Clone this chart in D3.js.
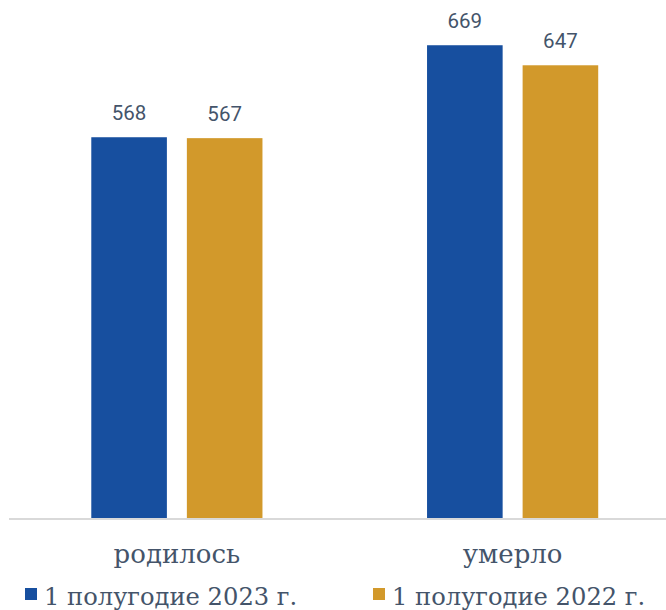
<!DOCTYPE html>
<html><head><meta charset="utf-8">
<script src="https://cdn.jsdelivr.net/npm/d3@7"></script>
<style>body{margin:0;background:#fff}svg{display:block}</style>
</head><body>
<svg id="c" width="666" height="610"></svg>
<script>
const categories = ["родилось", "умерло"];
const seriesNames = ["1 полугодие 2023 г.", "1 полугодие 2022 г."];
const values2023 = [568, 669];
const values2022 = [567, 647];
const colors = ["#174f9f", "#d2992b"];

const svg = d3.select("#c");
const textColor = "#44546a";
const serif = "'DejaVu Serif', serif";

const y = d3.scaleLinear().domain([150, 700]).range([518, 17]);
const x0 = d3.scaleBand().domain(categories).range([9, 680.5]);
const x1 = d3.scaleBand().domain(seriesNames).range([0, x0.bandwidth()]).paddingInner(0.209).paddingOuter(0.861);

const data = categories.map((c, i) => ({cat: c, vals: [values2023[i], values2022[i]]}));

const g = svg.selectAll("g.grp").data(data).enter().append("g")
  .attr("transform", d => `translate(${x0(d.cat)},0)`);

g.selectAll("rect").data(d => d.vals.map((v, j) => ({v, s: seriesNames[j], j}))).enter().append("rect")
  .attr("x", d => x1(d.s)).attr("width", x1.bandwidth())
  .attr("y", d => y(d.v)).attr("height", d => y.range()[0] - y(d.v))
  .attr("fill", d => colors[d.j]);

g.selectAll("text.val").data(d => d.vals.map((v, j) => ({v, s: seriesNames[j], j}))).enter().append("text")
  .attr("class", "val")
  .attr("x", d => x1(d.s) + x1.bandwidth() / 2).attr("y", d => y(d.v) - 17)
  .attr("text-anchor", "middle").attr("fill", textColor)
  .style("font-family", "Roboto, sans-serif").style("font-size", "20.5px")
  .text(d => d.v);

// axis line
svg.append("line").attr("x1", x0.range()[0]).attr("x2", x0.range()[1])
  .attr("y1", 519).attr("y2", 519).attr("stroke", "#d9d9d9").attr("stroke-width", 2);

// category labels
svg.selectAll("text.cat").data(categories).enter().append("text")
  .attr("class", "cat")
  .attr("x", d => x0(d) + x0.bandwidth() / 2).attr("y", 563)
  .attr("text-anchor", "middle").attr("fill", textColor)
  .style("font-family", serif).style("font-size", "26px")
  .text(d => d);

// legend
const legX = [25, 373];
const lg = svg.selectAll("g.leg").data(seriesNames).enter().append("g")
  .attr("transform", (d, i) => `translate(${legX[i]},0)`);
lg.append("rect").attr("x", 0).attr("y", 588).attr("width", 12).attr("height", 12)
  .attr("fill", (d, i) => colors[i]);
lg.append("text").attr("x", 19).attr("y", 604.5).attr("fill", textColor)
  .style("font-family", serif).style("font-size", "24.2px")
  .text(d => d);
</script>
</body></html>
